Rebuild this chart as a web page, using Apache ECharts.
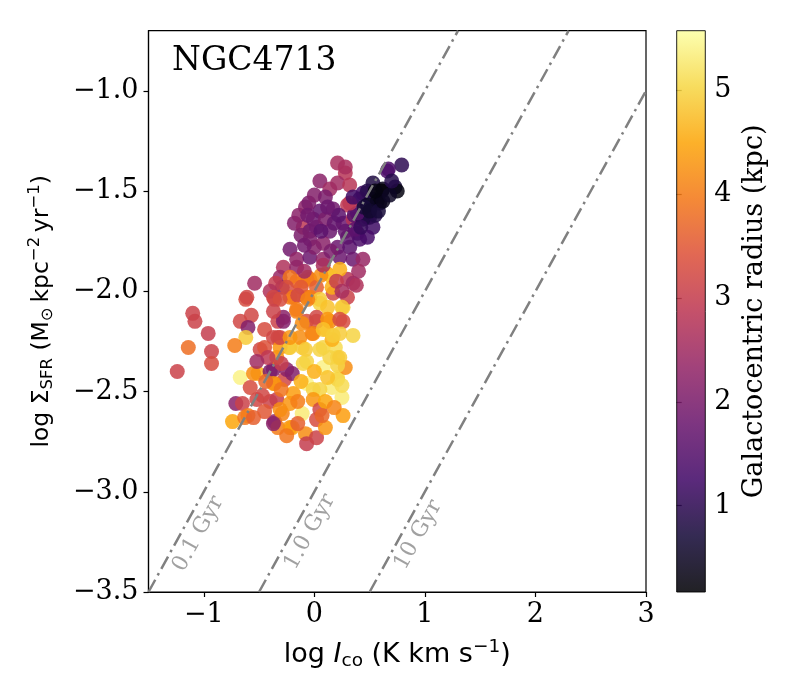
<!DOCTYPE html>
<html lang="en">
<head>
    <meta charset="UTF-8">
    <title>NGC4713</title>
    <style>
        html,body{
            padding: 0;
            margin: 0;
            width: 100%;
            height: 100%;
            background: #fff;
        }
        .map{
            width: 800px;
            height: 700px;
        }
    </style>
    <script src="https://cdn.jsdelivr.net/npm/echarts@6/dist/echarts.min.js"></script>
</head>
<body>
<div class="map"></div>
<script>
    // [log I_co, log Sigma_SFR, galactocentric radius (kpc)]
    const points = [
        [-1.10,-2.11,3.1],[-1.08,-2.15,3.1],[-0.96,-2.21,3.0],[-1.14,-2.28,3.8],[-0.93,-2.30,3.1],
        [-0.93,-2.36,3.3],[-1.24,-2.40,3.1],[-0.62,-2.04,3.3],[-0.67,-2.15,3.2],[-0.57,-2.12,3.2],
        [-0.60,-2.18,2.1],[-0.62,-2.23,4.9],[-0.72,-2.27,4.0],[-0.67,-2.43,5.4],[-0.71,-2.56,2.2],
        [-0.65,-2.56,3.1],[-0.74,-2.65,4.5],[-0.63,-2.63,3.9],[-0.52,-2.54,3.2],[-0.49,-2.29,3.2],
        [-0.51,-2.41,4.6],[-0.55,-2.41,4.2],[-0.58,-2.48,3.3],[-0.40,-2.55,3.1],[-0.34,-2.54,3.0],
        [-0.36,-2.65,2.3],[-0.29,-2.61,4.1],[-0.33,-2.68,4.0],[-0.22,-2.68,4.3],[-0.11,-2.61,5.3],
        [-0.08,-2.71,4.2],[-0.07,-2.76,3.0],[0.02,-2.73,3.1],[0.02,-2.64,3.3],[0.10,-2.68,4.3],
        [0.26,-2.62,4.4],[0.25,-2.53,5.3],[0.16,-2.48,5.3],[0.21,-2.43,5.3],[0.08,-2.38,5.4],
        [-0.07,-2.46,5.4],[-0.01,-2.49,5.0],[-0.19,-2.51,4.4],[-0.22,-2.56,4.3],[-0.27,-2.44,3.2],
        [-0.36,-2.46,4.0],[-0.37,-2.39,2.1],[-0.25,-2.39,2.2],[-0.34,-2.33,4.2],[-0.23,-2.28,4.9],
        [-0.11,-2.28,4.9],[-0.07,-2.35,5.0],[0.08,-2.28,5.0],[0.19,-2.28,5.1],[0.21,-2.33,5.0],
        [0.16,-2.24,4.6],[0.35,-2.22,5.0],[0.26,-2.08,5.0],[0.05,-2.06,5.0],[0.11,-2.19,5.0],
        [-0.01,-2.21,4.3],[-0.13,-2.23,4.2],[-0.33,-2.23,3.2],[-0.45,-2.19,3.3],[-0.33,-2.15,3.1],
        [-0.28,-2.15,2.1],[-0.16,-2.10,4.1],[-0.07,-2.15,3.3],[0.02,-2.15,3.3],[0.14,-2.15,4.2],
        [-0.36,-2.04,3.2],[-0.22,-2.03,4.0],[-0.07,-2.03,4.1],[0.17,-2.01,3.2],[0.26,-2.15,3.3],
        [0.23,-2.21,4.9],[0.28,-2.38,4.2],[0.21,-2.37,5.0],
        [-0.37,-2.23,3.2],[-0.31,-2.28,4.3],[-0.22,-2.28,4.9],[-0.08,-2.29,4.9],[0.05,-2.29,5.0],
        [0.14,-2.33,5.0],[-0.10,-2.36,5.0],[0.23,-2.33,4.9],[-0.20,-2.41,2.1],[-0.40,-2.40,2.0],
        [-0.37,-2.46,4.3],[0.05,-2.49,5.0],[0.21,-2.44,5.0],[-0.01,-2.54,4.3],[0.05,-2.59,3.2],
        [-0.31,-2.59,4.2],[-0.20,-2.68,4.4],[-0.60,-2.62,4.0],[-0.37,-2.66,2.2],
        [0.21,-1.36,2.6],[0.28,-1.41,2.8],[0.05,-1.45,2.2],[0.21,-1.46,2.5],[0.32,-1.47,2.8],
        [0.14,-1.49,2.5],[-0.08,-1.58,2.2],[0.05,-1.60,1.7],[0.30,-1.57,2.9],[0.17,-1.59,1.9],
        [-0.10,-1.68,2.9],[-0.01,-1.64,1.8],[0.26,-1.66,1.8],[0.35,-1.64,2.8],[0.44,-1.51,1.3],
        [0.53,-1.46,0.8],[0.62,-1.49,0.4],[0.73,-1.48,0.7],[0.66,-1.40,1.4],[0.79,-1.37,1.0],
        [0.52,-1.54,0.5],[0.59,-1.56,0.5],[0.48,-1.63,1.0],[0.53,-1.68,1.2],[0.39,-1.71,1.3],
        [0.30,-1.73,1.6],[0.14,-1.70,1.8],[-0.04,-1.70,1.8],[-0.04,-1.74,2.0],[0.08,-1.76,2.2],
        [0.21,-1.78,1.8],[0.32,-1.78,1.6],[0.41,-1.74,1.4],[-0.22,-1.79,1.9],[-0.16,-1.84,2.3],
        [-0.04,-1.83,1.8],[0.08,-1.84,2.3],[0.23,-1.83,1.8],[0.35,-1.84,1.8],[0.44,-1.84,2.4],
        [-0.28,-1.88,2.7],[-0.16,-1.88,2.3],[-0.31,-1.93,2.4],[-0.54,-1.96,2.5],[-0.29,-1.98,2.0],
        [0.30,-1.94,2.8],[0.35,-1.96,2.5],[0.38,-1.97,2.7],[0.30,-2.03,3.1],[0.40,-1.90,2.5],
        [-0.12,-1.72,2.0],[0.02,-1.68,1.9],[0.10,-1.64,2.0],[0.00,-1.78,2.1],[-0.09,-1.77,1.9],
        [0.15,-1.80,2.0],[0.28,-1.70,1.7],[0.36,-1.62,1.5],[0.67,-1.39,1.4],[0.48,-1.50,0.9],
        [0.41,-1.54,1.0],[0.50,-1.63,1.0],[0.44,-1.64,0.8],[0.39,-1.61,1.5],[0.37,-1.69,1.6],
        [0.48,-1.73,1.3],[0.32,-1.56,2.9],[0.28,-1.38,2.6],[0.75,-1.50,0.3],[0.61,-1.50,0.2],
        [0.57,-1.55,0.3],[0.48,-1.57,0.5],[0.55,-1.62,0.9],
        [-0.18,-1.66,2.1],[-0.14,-1.62,2.2],[-0.05,-1.56,2.0],[0.00,-1.52,2.1],[0.10,-1.53,2.0],
        [0.06,-1.70,1.6],[0.18,-1.66,1.7],[0.22,-1.62,1.6],[0.12,-1.58,1.8],[-0.06,-1.62,1.9],
        [0.45,-1.58,0.7],[0.42,-1.68,1.1],[0.35,-1.53,1.2],[0.50,-1.60,0.6],[0.58,-1.60,0.7],
        [0.62,-1.55,0.4],[0.68,-1.52,0.5],[0.70,-1.45,0.9],[0.55,-1.50,0.3],
        [-0.22,-1.93,3.9],[-0.16,-1.95,3.9],[-0.04,-1.94,3.8],[0.11,-1.91,4.5],[0.23,-1.89,4.6],
        [0.16,-1.93,4.8],[0.16,-1.98,4.6],[-0.06,-1.93,4.0],[-0.10,-1.95,4.0],
        [-0.25,-1.98,3.3],[-0.12,-1.98,3.5],[0.02,-1.98,3.6],[0.06,-1.92,4.2],[0.20,-1.95,3.0],
        [0.25,-2.00,2.6],[-0.35,-1.96,3.0],[-0.40,-2.00,2.7],[-0.09,-1.90,2.5],[0.08,-1.87,2.6],
        [-0.61,-2.03,3.2],[-0.37,-2.03,3.2],[-0.19,-2.03,4.0],[-0.04,-2.03,4.0],[0.05,-2.04,4.9],
        [-0.31,-2.04,3.3],[-0.15,-2.02,3.2],[-0.06,-2.04,4.1],[0.12,-2.08,4.8],[0.25,-2.08,4.9],
        [-0.16,-2.09,4.0],[-0.28,-2.13,2.2],[-0.37,-2.10,3.1],[0.02,-2.13,3.2],[0.12,-2.14,4.3],
        [0.23,-2.14,3.3],[-0.11,-2.16,4.2],[-0.02,-2.21,4.1],[0.08,-2.19,4.8],[-0.31,-2.23,3.2],
        [-0.22,-2.23,4.3],[0.17,-2.22,4.9],
        [-0.45,-2.28,3.4],[-0.42,-2.33,2.9],[-0.30,-2.36,3.0],[-0.44,-2.45,3.7],[-0.30,-2.49,3.9],
        [-0.47,-2.52,3.2],[-0.52,-2.35,2.5],
        [0.00,-2.40,4.6],[0.12,-2.43,4.8],[0.10,-2.55,4.5],[0.18,-2.58,4.1],[-0.12,-2.45,4.6],
        [-0.15,-2.55,4.0],[0.25,-2.47,5.1],
        [-0.15,-2.66,3.6],[-0.25,-2.72,3.9],[0.07,-2.62,3.7],[-0.45,-2.60,3.5],[-0.55,-2.63,3.6]
    ];

    // depletion time lines: log Sigma_SFR = log I_co + offset
    const depletionTimes = ['0.1 Gyr', '1.0 Gyr', '10 Gyr'];
    const depletionOffsets = [-2, -3, -4];
    const depletionLabelAt = [[-1.05, -3.21], [-0.04, -3.20], [0.94, -3.215]];

    const xTicks = [-1, 0, 1, 2, 3];
    const yTicks = [-3.5, -3.0, -2.5, -2.0, -1.5, -1.0];
    const cbTicks = [1, 2, 3, 4, 5];

    const xMin = -1.5, xMax = 3, yMin = -3.5, yMax = -0.7;
    const cbMin = 0.17, cbMax = 5.57;

    const inferno = ['#000004', '#160b39', '#420a68', '#6a176e', '#932667', '#bc3754',
        '#dd513a', '#f37819', '#fca50a', '#f6d746', '#fcffa4'];

    const serif = 'DejaVu Serif';
    const sans = 'DejaVu Sans';
    const minus = v => (v < 0 ? '\u2212' : '') + Math.abs(v);

    let chart = echarts.init(document.querySelector('.map'), null, {renderer: 'canvas'});

    let series = [];

    series.push({
        type: 'scatter',
        xAxisIndex: 0,
        yAxisIndex: 0,
        data: points,
        symbolSize: 15,
        itemStyle: {opacity: 0.85},
        z: 2
    });

    depletionOffsets.forEach((c, i) => {
        let x0 = Math.max(xMin, yMin - c);
        let x1 = Math.min(xMax, yMax - c);
        series.push({
            type: 'line',
            name: depletionTimes[i],
            xAxisIndex: 0,
            yAxisIndex: 0,
            data: [[x0, x0 + c], [x1, x1 + c]],
            symbol: 'none',
            silent: true,
            lineStyle: {color: '#808080', width: 2.5, type: [14, 5, 2.5, 5]},
            z: 3
        });
    });

    series.push({
        type: 'scatter',
        xAxisIndex: 0,
        yAxisIndex: 0,
        data: depletionTimes.map((t, i) => [depletionLabelAt[i][0], depletionLabelAt[i][1], t]),
        symbolSize: 2,
        silent: true,
        itemStyle: {color: 'rgba(0,0,0,0)'},
        label: {
            show: true,
            position: 'inside',
            rotate: 61,
            formatter: p => p.data[2],
            fontFamily: serif,
            fontSize: 22,
            color: '#8a8a8a'
        },
        z: 4
    });

    // colorbar
    series.push({
        type: 'custom',
        xAxisIndex: 1,
        yAxisIndex: 1,
        data: [[0, cbMax]],
        renderItem: function (params, api) {
            let top = api.coord([0, cbMax]);
            let bot = api.coord([0, cbMin]);
            return {
                type: 'rect',
                shape: {x: params.coordSys.x, y: top[1], width: params.coordSys.width, height: bot[1] - top[1]},
                style: {
                    fill: new echarts.graphic.LinearGradient(0, 1, 0, 0,
                        inferno.map((c, k) => ({offset: k / (inferno.length - 1), color: c}))),
                    opacity: 0.87,
                    stroke: '#000',
                    lineWidth: 1
                }
            };
        }
    });

    const tickLabel = {fontFamily: serif, fontSize: 27, color: '#000'};

    let option = {
        backgroundColor: '#fff',
        animation: false,
        title: {
            text: 'NGC4713',
            left: 167,
            top: 40,
            textStyle: {fontFamily: serif, fontSize: 33, fontWeight: 'normal', color: '#000'}
        },
        visualMap: {
            show: false,
            type: 'continuous',
            seriesIndex: 0,
            dimension: 2,
            min: cbMin,
            max: cbMax,
            inRange: {color: inferno}
        },
        grid: [
            {left: 148.5, top: 30.7, width: 497.5, height: 561.3, show: true, borderColor: '#000', borderWidth: 1.2, backgroundColor: 'transparent'},
            {left: 676.7, top: 30.7, width: 28.6, height: 561.3}
        ],
        xAxis: [
            {
                gridIndex: 0,
                type: 'value',
                min: xMin,
                max: xMax,
                name: '{m|log }{i|I}{s|co}{m| (K km s}{p|\u22121}{m|)}',
                nameLocation: 'middle',
                nameGap: 46,
                nameTextStyle: {
                    rich: {
                        m: {fontFamily: sans, fontSize: 27, lineHeight: 33, color: '#000'},
                        i: {fontFamily: sans, fontSize: 27, lineHeight: 33, fontStyle: 'italic', color: '#000'},
                        s: {fontFamily: sans, fontSize: 18.5, lineHeight: 18, verticalAlign: 'bottom', color: '#000'},
                        p: {fontFamily: sans, fontSize: 18.5, lineHeight: 18, verticalAlign: 'top', color: '#000'}
                    }
                },
                axisLine: {onZero: false, lineStyle: {color: '#000', width: 1.2}},
                axisTick: {length: 5, lineStyle: {color: '#000', width: 1.2}, customValues: xTicks},
                axisLabel: Object.assign({margin: 9, customValues: xTicks, formatter: v => minus(v)}, tickLabel),
                splitLine: {show: false}
            },
            {
                gridIndex: 1,
                type: 'value',
                min: 0,
                max: 1,
                show: false
            }
        ],
        yAxis: [
            {
                gridIndex: 0,
                type: 'value',
                min: yMin,
                max: yMax,
                name: '{m|log \u03a3}{s|SFR}{m| (M}{s|\u2299}{m|\u2009kpc}{p|\u22122}{m|\u2009yr}{p|\u22121}{m|)}',
                nameLocation: 'middle',
                nameRotate: 90,
                nameGap: 92,
                nameTextStyle: {
                    rich: {
                        m: {fontFamily: sans, fontSize: 23.5, lineHeight: 30, color: '#000'},
                        s: {fontFamily: sans, fontSize: 16.5, lineHeight: 16, verticalAlign: 'bottom', color: '#000'},
                        p: {fontFamily: sans, fontSize: 16.5, lineHeight: 16, verticalAlign: 'top', color: '#000'}
                    }
                },
                axisLine: {show: true, onZero: false, lineStyle: {color: '#000', width: 1.2}},
                axisTick: {show: true, length: 5, lineStyle: {color: '#000', width: 1.2}, customValues: yTicks},
                axisLabel: Object.assign({margin: 10, customValues: yTicks, formatter: v => (v < 0 ? '\u2212' : '') + Math.abs(v).toFixed(1)}, tickLabel),
                splitLine: {show: false}
            },
            {
                gridIndex: 1,
                type: 'value',
                position: 'right',
                min: cbMin,
                max: cbMax,
                name: 'Galactocentric radius (kpc)',
                nameLocation: 'middle',
                nameRotate: 90,
                nameGap: 36,
                nameTextStyle: {fontFamily: serif, fontSize: 27, color: '#000'},
                axisLine: {show: false},
                axisTick: {show: true, length: 5, lineStyle: {color: '#000', width: 1.2}, customValues: cbTicks},
                axisLabel: Object.assign({margin: 9, customValues: cbTicks}, tickLabel),
                splitLine: {show: false}
            }
        ],
        series: series
    };

    chart.setOption(option);
</script>
</body>
</html>
